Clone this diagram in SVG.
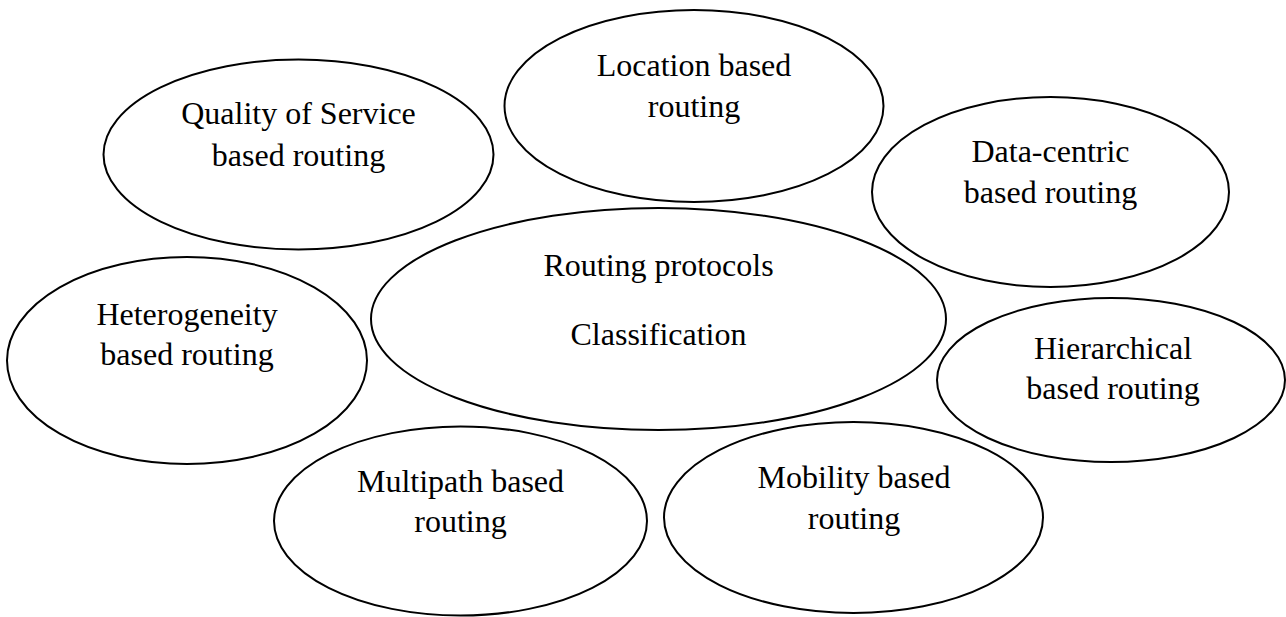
<svg xmlns="http://www.w3.org/2000/svg" width="1286" height="617" viewBox="0 0 1286 617">
  <style>
    .node ellipse { fill: none; stroke: #000; stroke-width: 2; }
    .node text { font-family: "Liberation Serif", "Times New Roman", serif; font-size: 32px; fill: #000; text-anchor: middle; }
  </style>
  <rect width="1286" height="617" fill="#fff"/>
  <!-- no connectors: categories are arranged around the central node -->
  <g id="connectors"/>

  <g id="qos" class="node">
    <ellipse cx="298.5" cy="154.5" rx="195" ry="95"/>
    <text x="298.5" y="124">Quality of Service</text>
    <text x="298.5" y="166">based routing</text>
  </g>

  <g id="location" class="node">
    <ellipse cx="694" cy="106" rx="189.5" ry="96"/>
    <text x="694" y="76">Location based</text>
    <text x="694" y="117">routing</text>
  </g>

  <g id="data-centric" class="node">
    <ellipse cx="1050.5" cy="192" rx="178.5" ry="95"/>
    <text x="1050.5" y="162">Data-centric</text>
    <text x="1050.5" y="203">based routing</text>
  </g>

  <g id="classification" class="node">
    <ellipse cx="658.5" cy="319" rx="287.5" ry="111"/>
    <text x="658.5" y="276">Routing protocols</text>
    <text x="658.5" y="345">Classification</text>
  </g>

  <g id="heterogeneity" class="node">
    <ellipse cx="187" cy="360.5" rx="180" ry="103.5"/>
    <text x="187" y="325">Heterogeneity</text>
    <text x="187" y="365">based routing</text>
  </g>

  <g id="hierarchical" class="node">
    <ellipse cx="1111" cy="380" rx="174" ry="82"/>
    <text x="1113" y="359">Hierarchical</text>
    <text x="1113" y="399">based routing</text>
  </g>

  <g id="multipath" class="node">
    <ellipse cx="460.5" cy="521" rx="186.5" ry="94.5"/>
    <text x="460.5" y="492">Multipath based</text>
    <text x="460.5" y="532">routing</text>
  </g>

  <g id="mobility" class="node">
    <ellipse cx="853.5" cy="517.5" rx="189.5" ry="95.5"/>
    <text x="854" y="488">Mobility based</text>
    <text x="854" y="529">routing</text>
  </g>
</svg>
